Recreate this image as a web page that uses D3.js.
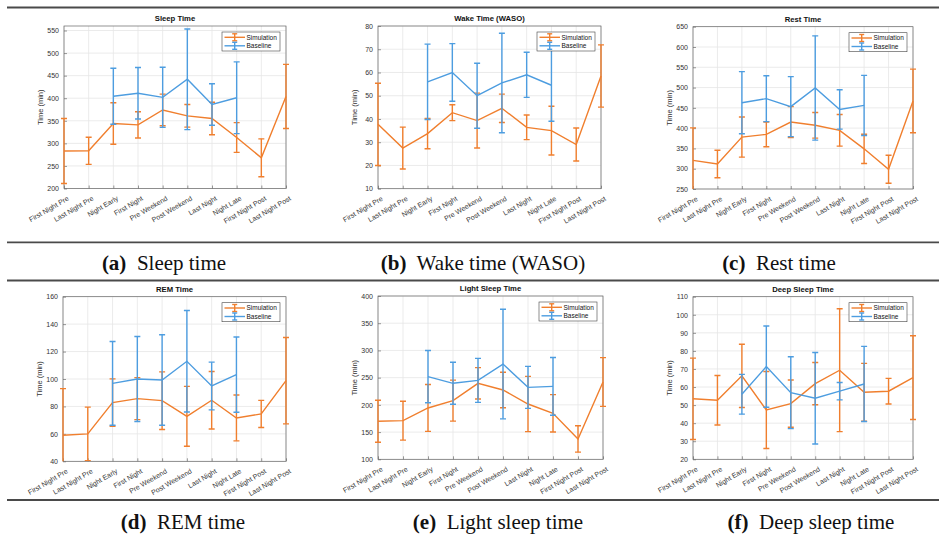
<!DOCTYPE html>
<html><head><meta charset="utf-8">
<script src="https://cdn.jsdelivr.net/npm/d3@7"></script>
<style>
html,body{margin:0;padding:0;background:#fff;}
svg{display:block;}
</style></head>
<body>
<svg id="chart" width="939" height="537"></svg>
<script>
const categories = ["First Night Pre","Last Night Pre","Night Early","First Night","Pre Weekend","Post Weekend","Last Night","Night Late","First Night Post","Last Night Post"];
const seriesNames = ["Simulation","Baseline"];

const sleepSim = [283, 283.5, 344, 341, 374, 361, 355, 313, 268, 404];
const sleepSimErr = [72, 30, 46, 29, 35, 25, 36, 33, 42, 71];
const sleepBase = [null, null, 404.5, 411, 402, 442, 386, 401, null, null];
const sleepBaseErr = [null, null, 62, 57, 66.5, 111.5, 46, 79.5, null, null];
const sleepTicks = [200, 250, 300, 350, 400, 450, 500, 550];

const wasoSim = [37.7, 27.5, 33.7, 42.7, 39.3, 44.6, 36.4, 35, 29, 58.5];
const wasoSimErr = [17.7, 9, 6.5, 3.4, 11.8, 6.1, 5.3, 10.5, 7.1, 13.4];
const wasoBase = [null, null, 56, 60, 50, 55.5, 59, 54.5, null, null];
const wasoBaseErr = [null, null, 16.2, 12.4, 14, 21.4, 9.7, 15.5, null, null];
const wasoTicks = [10, 20, 30, 40, 50, 60, 70, 80];

const restSim = [320.6, 311.6, 378, 384.7, 415, 407, 394.6, 349, 298.5, 467];
const restSimErr = [80, 34, 49.5, 30.5, 38, 31.5, 39, 36, 34.5, 78.5];
const restBase = [null, null, 462.7, 472.6, 453, 499, 446, 456, null, null];
const restBaseErr = [null, null, 76.7, 56.5, 74, 128.5, 48.5, 74, null, null];
const restTicks = [250, 300, 350, 400, 450, 500, 550, 600, 650];

const remSim = [59, 60, 82.8, 85.7, 84.2, 72.8, 84.5, 71.6, 74.5, 98.8];
const remSimErr = [34, 19.5, 17.3, 15.3, 21, 21.8, 21, 16.7, 9.9, 31.5];
const remBase = [null, null, 96.8, 100, 99.3, 112.9, 94.9, 103.2, null, null];
const remBaseErr = [null, null, 30.5, 31, 33, 37, 17.4, 27.4, null, null];
const remTicks = [40, 60, 80, 100, 120, 140, 160];

const lightSim = [169.8, 171, 194.3, 207.8, 239.6, 227.3, 201.6, 184.5, 137.3, 242];
const lightSimErr = [38.6, 35.7, 43, 37.6, 28.8, 32.5, 50.8, 34.3, 24.2, 44.7];
const lightBase = [null, null, 251.8, 239.6, 245, 275, 232.2, 234, null, null];
const lightBaseErr = [null, null, 48, 38.6, 40.5, 100.7, 38.6, 53, null, null];
const lightTicks = [100, 150, 200, 250, 300, 350, 400];

const deepSim = [53.5, 52.7, 66.2, 47.3, 50.8, 61.9, 69.3, 57.1, 57.7, 65.2];
const deepSimErr = [22.5, 13.7, 17.5, 21.3, 13.1, 11.7, 34, 16, 7.1, 23.2];
const deepBase = [null, null, 56, 71.3, 56.9, 53.8, 57.7, 61.7, null, null];
const deepBaseErr = [null, null, 11, 22.5, 19.9, 25.3, 4.8, 20.8, null, null];
const deepTicks = [20, 30, 40, 50, 60, 70, 80, 90, 100, 110];

const panels = [
  {title:"Sleep Time", letter:"(a)", caption:"Sleep time", domain:[200,560], ticks:sleepTicks,
   sim:sleepSim, simErr:sleepSimErr, base:sleepBase, baseErr:sleepBaseErr,
   box:{l:64,r:286,t:26,b:188.5}, capX:164, capY:270},
  {title:"Wake Time (WASO)", letter:"(b)", caption:"Wake time (WASO)", domain:[10,80], ticks:wasoTicks,
   sim:wasoSim, simErr:wasoSimErr, base:wasoBase, baseErr:wasoBaseErr,
   box:{l:378,r:601,t:26,b:188.7}, capX:483, capY:270},
  {title:"Rest Time", letter:"(c)", caption:"Rest time", domain:[250,650], ticks:restTicks,
   sim:restSim, simErr:restSimErr, base:restBase, baseErr:restBaseErr,
   box:{l:693,r:913,t:26.7,b:189}, capX:779, capY:270},
  {title:"REM Time", letter:"(d)", caption:"REM time", domain:[40,160], ticks:remTicks,
   sim:remSim, simErr:remSimErr, base:remBase, baseErr:remBaseErr,
   box:{l:63,r:286,t:296.7,b:461.3}, capX:183, capY:529},
  {title:"Light Sleep Time", letter:"(e)", caption:"Light sleep time", domain:[100,400], ticks:lightTicks,
   sim:lightSim, simErr:lightSimErr, base:lightBase, baseErr:lightBaseErr,
   box:{l:378,r:603,t:296,b:459.3}, capX:498, capY:529},
  {title:"Deep Sleep Time", letter:"(f)", caption:"Deep sleep time", domain:[20,110], ticks:deepTicks,
   sim:deepSim, simErr:deepSimErr, base:deepBase, baseErr:deepBaseErr,
   box:{l:693,r:913,t:296.7,b:459.3}, capX:811, capY:529}
];

const colors = {Simulation:"#F07F2E", Baseline:"#4D9DE0"};
const svg = d3.select("#chart");
const sans = "'Liberation Sans', Arial, Helvetica, sans-serif";
const serif = "'Liberation Serif', 'Times New Roman', serif";

// separator lines
[7.5, 242.3, 280.5, 500].forEach(y => {
  svg.append("line").attr("x1", 7).attr("x2", 939).attr("y1", y).attr("y2", y)
    .attr("stroke", "#4a4a4a").attr("stroke-width", 1.8);
});

panels.forEach((p, pi) => {
  const B = p.box;
  const x = d3.scalePoint().domain(categories).range([B.l, B.r]);
  const y = d3.scaleLinear().domain(p.domain).range([B.b, B.t]);
  const g = svg.append("g");

  const clipId = "clip" + pi;
  svg.append("clipPath").attr("id", clipId).append("rect")
    .attr("x", B.l - 4).attr("y", B.t).attr("width", B.r - B.l + 8).attr("height", B.b - B.t);

  g.append("rect").attr("x", B.l).attr("y", B.t).attr("width", B.r - B.l).attr("height", B.b - B.t).attr("fill", "#fff");

  // grid
  g.append("g").selectAll("line").data(p.ticks).join("line")
    .attr("x1", B.l).attr("x2", B.r).attr("y1", d => y(d)).attr("y2", d => y(d))
    .attr("stroke", "#e6e6e6").attr("stroke-width", 0.8);
  g.append("g").selectAll("line").data(categories).join("line")
    .attr("y1", B.t).attr("y2", B.b).attr("x1", d => x(d)).attr("x2", d => x(d))
    .attr("stroke", "#e6e6e6").attr("stroke-width", 0.8);

  // y axis
  const yAxis = d3.axisLeft(y).tickValues(p.ticks).tickSize(-3).tickPadding(5);
  const ya = g.append("g").attr("transform", `translate(${B.l},0)`).call(yAxis);
  ya.select(".domain").remove();
  ya.selectAll("line").attr("stroke", "#555").attr("stroke-width", 0.6);
  ya.selectAll("text").attr("font-family", sans).attr("font-size", "7px").attr("fill", "#333");

  // x axis
  const xAxis = d3.axisBottom(x).tickSize(-3).tickPadding(0).tickFormat("");
  const xa = g.append("g").attr("transform", `translate(0,${B.b})`).call(xAxis);
  xa.select(".domain").remove();
  xa.selectAll("line").attr("stroke", "#555").attr("stroke-width", 0.6);
  g.append("g").selectAll("text").data(categories).join("text")
    .attr("transform", d => `translate(${x(d) + 3},${B.b + 7}) rotate(-30)`)
    .attr("text-anchor", "end").attr("dy", "0.71em")
    .attr("font-family", sans).attr("font-size", "7px").attr("fill", "#333")
    .text(d => d);

  // box
  g.append("rect").attr("x", B.l).attr("y", B.t).attr("width", B.r - B.l).attr("height", B.b - B.t)
    .attr("fill", "none").attr("stroke", "#666").attr("stroke-width", 0.7);

  // title
  g.append("text").attr("x", (B.l + B.r) / 2).attr("y", B.t - 5).attr("text-anchor", "middle")
    .attr("font-family", sans).attr("font-size", "7.7px").attr("font-weight", "bold").attr("fill", "#111")
    .text(p.title);

  // y label
  g.append("text").attr("transform", `translate(${B.l - 21},${(B.t + B.b) / 2}) rotate(-90)`)
    .attr("text-anchor", "middle").attr("font-family", sans).attr("font-size", "7.5px").attr("fill", "#333")
    .text("Time (min)");

  // series
  const plotG = g.append("g").attr("clip-path", `url(#${clipId})`);
  const series = [
    {name:"Simulation", vals:p.sim, errs:p.simErr},
    {name:"Baseline", vals:p.base, errs:p.baseErr}
  ];
  series.forEach(s => {
    const pts = categories.map((c, i) => ({c, v:s.vals[i], e:s.errs[i]})).filter(d => d.v != null);
    const col = colors[s.name];
    const line = d3.line().x(d => x(d.c)).y(d => y(d.v));
    plotG.append("path").datum(pts).attr("d", line).attr("fill", "none")
      .attr("stroke", col).attr("stroke-width", 1.4);
    const eb = plotG.append("g").selectAll("g").data(pts).join("g");
    eb.append("line").attr("x1", d => x(d.c)).attr("x2", d => x(d.c))
      .attr("y1", d => y(d.v - d.e)).attr("y2", d => y(d.v + d.e))
      .attr("stroke", col).attr("stroke-width", 1.4);
    [-1, 1].forEach(sg => {
      eb.append("line").attr("x1", d => x(d.c) - 3).attr("x2", d => x(d.c) + 3)
        .attr("y1", d => y(d.v + sg * d.e)).attr("y2", d => y(d.v + sg * d.e))
        .attr("stroke", col).attr("stroke-width", 1.4);
    });
  });

  // legend
  const lw = 58, lh = 19;
  const lx = B.r - 6 - lw, ly = B.t + 6;
  const lg = g.append("g").attr("transform", `translate(${lx},${ly})`);
  lg.append("rect").attr("width", lw).attr("height", lh).attr("fill", "#fff")
    .attr("stroke", "#444").attr("stroke-width", 0.6);
  seriesNames.forEach((n, i) => {
    const yy = 5.3 + i * 8.5;
    const col = colors[n];
    lg.append("line").attr("x1", 2.5).attr("x2", 23).attr("y1", yy).attr("y2", yy).attr("stroke", col).attr("stroke-width", 1.4);
    lg.append("line").attr("x1", 12.7).attr("x2", 12.7).attr("y1", yy - 3.5).attr("y2", yy + 3.5).attr("stroke", col).attr("stroke-width", 1.4);
    [-3.5, 3.5].forEach(o => lg.append("line").attr("x1", 10.2).attr("x2", 15.2).attr("y1", yy + o).attr("y2", yy + o).attr("stroke", col).attr("stroke-width", 1.4));
    lg.append("text").attr("x", 24.5).attr("y", yy).attr("dy", "0.35em")
      .attr("font-family", sans).attr("font-size", "6.5px").attr("fill", "#111").text(n);
  });

  // caption
  const cap = svg.append("text").attr("x", p.capX).attr("y", p.capY).attr("text-anchor", "middle")
    .attr("font-family", serif).attr("font-size", "21px").attr("fill", "#111");
  cap.append("tspan").attr("font-weight", "bold").text(p.letter);
  cap.append("tspan").text("\u00a0 " + p.caption);
});
</script>
</body></html>
